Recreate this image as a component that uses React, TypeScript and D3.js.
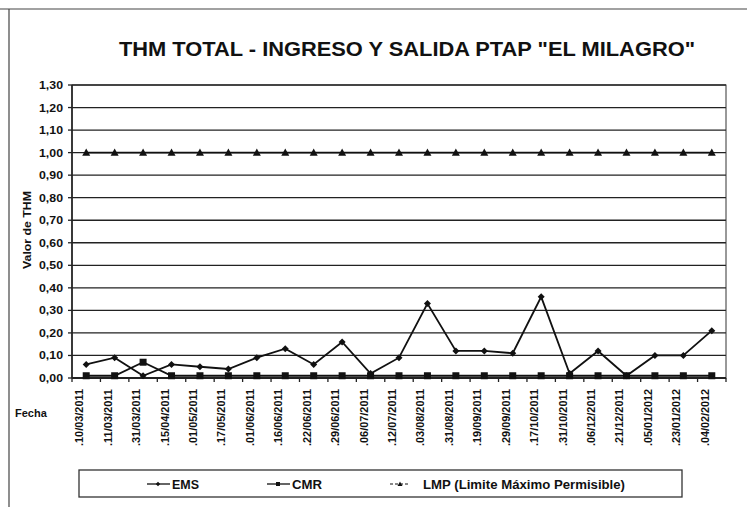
import React from "react";
import * as d3 from "d3";

const fechas = [
  ".10/03/2011", ".11/03/2011", ".31/03/2011", ".15/04/2011", ".01/05/2011",
  ".17/05/2011", ".01/06/2011", ".16/06/2011", ".22/06/2011", ".29/06/2011",
  ".06/07/2011", ".12/07/2011", ".03/08/2011", ".31/08/2011", ".19/09/2011",
  ".29/09/2011", ".17/10/2011", ".31/10/2011", ".06/12/2011", ".21/12/2011",
  ".05/01/2012", ".23/01/2012", ".04/02/2012",
];
const ems = [0.06, 0.09, 0.01, 0.06, 0.05, 0.04, 0.09, 0.13, 0.06, 0.16, 0.02, 0.09,
  0.33, 0.12, 0.12, 0.11, 0.36, 0.02, 0.12, 0.01, 0.10, 0.10, 0.21];
const cmr = [0.01, 0.01, 0.07, 0.01, 0.01, 0.01, 0.01, 0.01, 0.01, 0.01, 0.01, 0.01,
  0.01, 0.01, 0.01, 0.01, 0.01, 0.01, 0.01, 0.01, 0.01, 0.01, 0.01];
const lmp = fechas.map(() => 1.0);
const yTicks = [0, 0.1, 0.2, 0.3, 0.4, 0.5, 0.6, 0.7, 0.8, 0.9, 1.0, 1.1, 1.2, 1.3];

const FONT = "'Liberation Sans', Arial, sans-serif";
const INK = "#111";

function App() {
  const left = 72, right = 726, top = 85, bottom = 378;
  const x = d3.scaleBand<string>().domain(fechas).range([left, right]);
  const y = d3.scaleLinear().domain([0, 1.3]).range([bottom, top]);
  const cx = (d: string) => (x(d) ?? 0) + x.bandwidth() / 2;
  const fmt = (v: number) => d3.format(".2f")(v).replace(".", ",");

  const mkLine = (vals: number[]) =>
    d3.line<number>().x((_, i) => cx(fechas[i])).y((v) => y(v))(vals) ?? "";

  const diamond = (px: number, py: number, r = 3.5) =>
    `M${px},${py - r}L${px + r},${py}L${px},${py + r}L${px - r},${py}Z`;
  const tri = (px: number, py: number, r = 4) =>
    `M${px},${py - r}L${px + r},${py + r * 0.8}L${px - r},${py + r * 0.8}Z`;

  return (
    <svg width={747} height={507} style={{ position: "absolute", left: 0, top: 0, background: "#fff" }}
      fontFamily={FONT}>
      {/* marco */}
      <line x1={0} x2={747} y1={9} y2={9} stroke="#444" strokeWidth={1.2} />
      <line x1={9} x2={9} y1={9} y2={507} stroke="#444" strokeWidth={1.2} />

      <text x={407} y={56} textAnchor="middle" fontSize={21} fontWeight="bold" fill={INK}
        textLength={576} lengthAdjust="spacingAndGlyphs">
        THM TOTAL - INGRESO Y SALIDA PTAP "EL MILAGRO"
      </text>

      {yTicks.map((t) => (
        <g key={t}>
          <line x1={left} x2={right} y1={y(t)} y2={y(t)} stroke="#222" strokeWidth={1.3} />
          <line x1={left - 4} x2={left} y1={y(t)} y2={y(t)} stroke="#222" strokeWidth={1.3} />
          <text x={63} y={y(t) + 4} textAnchor="end" fontSize={11} fontWeight="bold" fill={INK}
            textLength={24} lengthAdjust="spacingAndGlyphs">
            {fmt(t)}
          </text>
        </g>
      ))}
      <rect x={left} y={top} width={right - left} height={bottom - top} fill="none" stroke="#333" strokeWidth={1} />
      <line x1={left} x2={left} y1={top} y2={bottom} stroke="#222" strokeWidth={1.6} />
      <line x1={left} x2={right} y1={bottom} y2={bottom} stroke="#222" strokeWidth={2} />

      {[...fechas.map((d) => x(d) ?? 0), right].map((px, i) => (
        <line key={i} x1={px} x2={px} y1={bottom} y2={bottom + 4} stroke="#222" strokeWidth={1.3} />
      ))}
      {fechas.map((d) => (
        <text key={d} transform={`translate(${cx(d) - 3},389) rotate(-90)`} textAnchor="end"
          fontSize={10} fontWeight="bold" fill={INK} textLength={57} lengthAdjust="spacingAndGlyphs">
          {d}
        </text>
      ))}

      <text transform="translate(31,230) rotate(-90)" textAnchor="middle" fontSize={11.5} fontWeight="bold" fill={INK}
        textLength={78} lengthAdjust="spacingAndGlyphs">
        Valor de THM
      </text>
      <text x={15} y={417} fontSize={11} fontWeight="bold" fill={INK}>Fecha</text>

      <path d={mkLine(lmp)} fill="none" stroke={INK} strokeWidth={1.8} />
      {lmp.map((v, i) => (
        <path key={"l" + i} d={tri(cx(fechas[i]), y(v))} fill={INK} />
      ))}
      <path d={mkLine(cmr)} fill="none" stroke={INK} strokeWidth={1.8} />
      {cmr.map((v, i) => (
        <rect key={"c" + i} x={cx(fechas[i]) - 3.5} y={y(v) - 3.5} width={7} height={7} fill={INK} />
      ))}
      <path d={mkLine(ems)} fill="none" stroke={INK} strokeWidth={1.8} />
      {ems.map((v, i) => (
        <path key={"e" + i} d={diamond(cx(fechas[i]), y(v))} fill={INK} />
      ))}

      <rect x={79} y={470} width={603} height={27} fill="#fff" stroke="#333" strokeWidth={1.3} />
      <line x1={147} x2={170} y1={484} y2={484} stroke={INK} strokeWidth={1.3} />
      <path d={diamond(158, 484, 2.2)} fill={INK} />
      <text x={172} y={488.5} fontSize={12.5} fontWeight="bold" fill={INK}
        textLength={27} lengthAdjust="spacingAndGlyphs">EMS</text>
      <line x1={267} x2={290} y1={484} y2={484} stroke={INK} strokeWidth={1.3} />
      <rect x={276} y={482} width={4} height={4} fill={INK} />
      <text x={292} y={488.5} fontSize={12.5} fontWeight="bold" fill={INK}
        textLength={30} lengthAdjust="spacingAndGlyphs">CMR</text>
      <line x1={390} x2={410} y1={484} y2={484} stroke={INK} strokeWidth={1} strokeDasharray="3,2" />
      <path d={tri(400, 484, 2.5)} fill={INK} />
      <text x={423} y={488.5} fontSize={12.5} fontWeight="bold" fill={INK}
        textLength={202} lengthAdjust="spacingAndGlyphs">LMP (Limite Máximo Permisible)</text>
    </svg>
  );
}

export default App;
